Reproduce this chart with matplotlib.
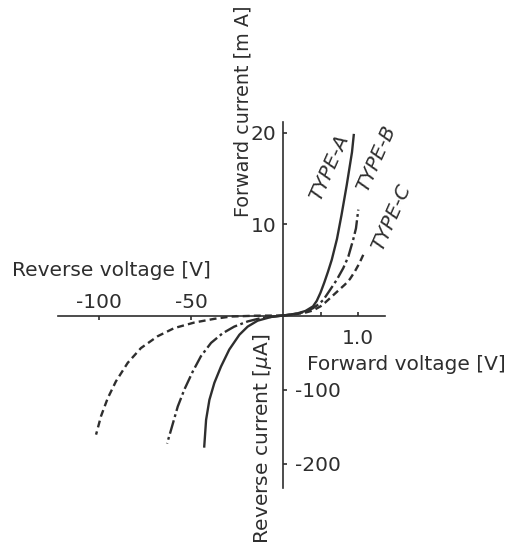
import matplotlib
matplotlib.use("Agg")
import matplotlib.pyplot as plt

plt.rcParams['font.family'] = ['DejaVu Sans']
plt.rcParams['lines.scale_dashes'] = False

# ---------------- data ----------------
# Forward characteristics (V, mA)
fwd_v_a = [0, 0.1, 0.2, 0.3, 0.4, 0.45, 0.5, 0.55, 0.6, 0.65, 0.72, 0.78, 0.85, 0.92, 0.945]
fwd_i_a = [0, 0.1, 0.25, 0.5, 1.0, 1.6, 2.5, 3.6, 4.8, 6.1, 8.4, 11.0, 14.3, 17.9, 19.9]
fwd_v_b = [0, 0.1, 0.2, 0.3, 0.4, 0.47, 0.537, 0.627, 0.716, 0.804, 0.871, 0.937, 0.973, 1.004]
fwd_i_b = [0, 0.1, 0.22, 0.42, 0.8, 1.2, 1.7, 2.8, 3.9, 5.2, 6.45, 8.35, 9.55, 11.6]
fwd_v_c = [0, 0.1, 0.2, 0.3, 0.4, 0.5, 0.56, 0.627, 0.693, 0.76, 0.827, 0.893, 0.956, 1.017, 1.09]
fwd_i_c = [0, 0.08, 0.18, 0.32, 0.55, 1.0, 1.4, 1.9, 2.4, 2.9, 3.4, 4.0, 4.8, 5.7, 7.0]

# Reverse characteristics (V, uA)
rev_v_a = [0, -6.5, -13.8, -19.2, -23.7, -29.2, -33.7, -37.3, -40.0, -41.8, -42.8]
rev_i_a = [0, -2, -7, -15, -26, -46, -69, -91, -114, -141, -177]
rev_v_b = [0, -12, -19.2, -26.5, -32.8, -39.1, -44.6, -49.1, -53.6, -57.2, -60.9, -63.0]
rev_i_b = [0, -3.5, -8, -15, -24, -37, -55, -76, -100, -123, -155, -173]
rev_v_c = [0, -15, -28.3, -37.3, -48.2, -59.1, -68.1, -77.2, -84.4, -90.8, -95.3, -98.9, -101.6]
rev_i_c = [0, -0.3, -1.4, -4.5, -9.5, -17, -28, -44, -64, -89, -112, -136, -161]

type_labels = ["TYPE-A", "TYPE-B", "TYPE-C"]
fwd_ticks_x = [0.5, 1.0]
fwd_ticklabels_x = ["", "1.0"]
fwd_ticks_y = [10, 20]
rev_ticks_x = [-100, -50]
rev_ticks_y = [-100, -200]

# ---------------- layout ----------------
W, H = 515, 546
fig = plt.figure(figsize=(W / 100, H / 100), dpi=100)
ink = '#2e2e2e'

def fx(px):
    return px / W

def fy(py):
    return 1 - py / H

ox, oy = 283, 315.5
ax_f = fig.add_axes([fx(ox), fy(oy), (385 - ox) / W, (oy - 122) / H])
ax_r = fig.add_axes([fx(58), fy(488), (ox - 58) / W, (488 - oy) / H])

for ax in (ax_f, ax_r):
    ax.patch.set_alpha(0)
    for s in ax.spines.values():
        s.set_color(ink)
        s.set_linewidth(1.2)

fs = 14.5
lw = 1.7

# forward quadrant
ax_f.set_xlim(0, 1.36)
ax_f.set_ylim(0, 21.2)
ax_f.spines['top'].set_visible(False)
ax_f.spines['right'].set_visible(False)
ax_f.set_xticks(fwd_ticks_x)
ax_f.set_xticklabels(fwd_ticklabels_x)
ax_f.set_yticks(fwd_ticks_y)
ax_f.tick_params(axis='x', direction='in', length=3, width=1.2, color=ink,
                 labelcolor=ink, labelsize=fs, pad=9.5)
ax_f.tick_params(axis='y', direction='in', length=3, width=1.2, color=ink,
                 labelcolor=ink, labelsize=fs, pad=4.5)

ax_f.plot(fwd_v_a, fwd_i_a, color=ink, lw=lw, solid_capstyle='butt', clip_on=False)
ax_f.plot(fwd_v_b, fwd_i_b, color=ink, lw=lw, dashes=(10, 2.5, 2, 2.5), clip_on=False)
ax_f.plot(fwd_v_c, fwd_i_c, color=ink, lw=lw, dashes=(5, 3), clip_on=False)

# reverse quadrant
ax_r.set_xlim(-(ox - 58) / 1.84, 0)
ax_r.set_ylim(-(488 - oy) / 0.74, 0)
ax_r.spines['bottom'].set_visible(False)
ax_r.spines['left'].set_visible(False)
ax_r.xaxis.tick_top()
ax_r.yaxis.tick_right()
ax_r.set_xticks(rev_ticks_x)
ax_r.set_xticklabels([str(v) for v in rev_ticks_x])
ax_r.set_yticks(rev_ticks_y)
ax_r.set_yticklabels([str(v) for v in rev_ticks_y])
ax_r.tick_params(axis='x', direction='in', length=3, width=1.2, color=ink,
                 labelcolor=ink, labelsize=fs, pad=2.5)
ax_r.tick_params(axis='y', direction='out', length=3, width=1.2, color=ink,
                 labelcolor=ink, labelsize=fs, pad=6.0)

ax_r.plot(rev_v_a, rev_i_a, color=ink, lw=lw, clip_on=False)
ax_r.plot(rev_v_b, rev_i_b, color=ink, lw=lw, dashes=(10, 2.5, 2, 2.5), clip_on=False)
ax_r.plot(rev_v_c, rev_i_c, color=ink, lw=lw, dashes=(5, 3), clip_on=False)

# axis titles
fig.text(fx(12), fy(276), "Reverse voltage [V]", fontsize=fs, color=ink,
         ha='left', va='baseline')
fig.text(fx(307), fy(370), "Forward voltage [V]", fontsize=fs, color=ink,
         ha='left', va='baseline')
fig.text(fx(243), fy(111), "Forward current [m A]", fontsize=13.8, color=ink,
         rotation=90, ha='center', va='center')
fig.text(fx(262), fy(439), "Reverse current [$\\mu$A]", fontsize=fs, color=ink,
         rotation=90, ha='center', va='center')

# type labels
label_pos = [(329, 168), (376, 159), (391, 218)]
for lab, (px, py) in zip(type_labels, label_pos):
    fig.text(fx(px), fy(py), lab, fontsize=fs, color=ink, rotation=66,
             style='italic', ha='center', va='center', rotation_mode='anchor')

fig.savefig("out.png", dpi=100)
